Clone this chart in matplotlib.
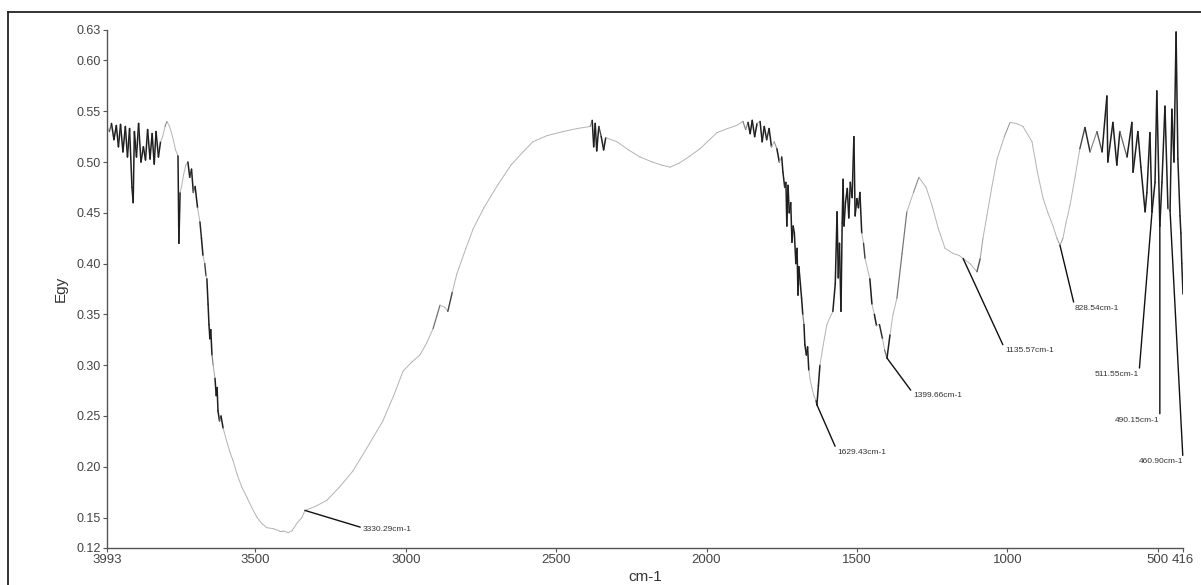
import numpy as np
import matplotlib
matplotlib.use('Agg')
from matplotlib import pyplot as plt
from matplotlib.collections import LineCollection
from matplotlib.lines import Line2D

plt.rcParams['font.family'] = ['Liberation Sans Narrow', 'Liberation Sans', 'DejaVu Sans']

# spectrum (wavenumber cm-1, Egy)
WAVENUMBER = [
    3993, 3985, 3978, 3970, 3962, 3955, 3948, 3940, 3932, 3925, 3918, 3910, 3906, 3902,
    3895, 3888, 3880, 3872, 3865, 3858, 3850, 3843, 3836, 3830, 3822, 3815, 3808, 3800,
    3794, 3785, 3775, 3765, 3757, 3754, 3750, 3745, 3738, 3731, 3724, 3718, 3712, 3706,
    3700, 3692, 3684, 3679, 3674, 3668, 3664, 3661, 3657, 3654, 3651, 3648, 3644, 3640,
    3634, 3630, 3627, 3624, 3619, 3614, 3607, 3595, 3585, 3574, 3560, 3545, 3528, 3512,
    3494, 3478, 3461, 3440, 3420, 3408, 3390, 3378, 3360, 3345, 3335, 3300, 3262, 3220,
    3175, 3130, 3076, 3040, 3009, 2980, 2953, 2930, 2909, 2886, 2870, 2860, 2845, 2830,
    2800, 2776, 2740, 2693, 2650, 2610, 2577, 2530, 2477, 2430, 2387, 2380, 2375, 2370,
    2365, 2358, 2350, 2342, 2335, 2298, 2260, 2221, 2180, 2150, 2121, 2090, 2055, 2022,
    1990, 1965, 1930, 1900, 1879, 1870, 1862, 1855, 1848, 1840, 1832, 1822, 1815, 1808,
    1800, 1792, 1784, 1775, 1766, 1758, 1750, 1746, 1740, 1736, 1733, 1729, 1725, 1720,
    1716, 1712, 1708, 1703, 1699, 1696, 1693, 1688, 1684, 1680, 1676, 1673, 1668, 1664,
    1660, 1656, 1650, 1643, 1636, 1633, 1628, 1623, 1612, 1600, 1580, 1572, 1566, 1562,
    1558, 1553, 1549, 1546, 1543, 1538, 1532, 1527, 1522, 1516, 1510, 1506, 1500, 1495,
    1490, 1484, 1478, 1473, 1465, 1457, 1450, 1442, 1435, 1425, 1415, 1408, 1400, 1390,
    1380, 1367, 1350, 1334, 1312, 1294, 1270, 1250, 1230, 1207, 1180, 1160, 1147, 1124,
    1101, 1090, 1081, 1068, 1050, 1034, 1010, 991, 970, 948, 918, 900, 881, 865, 848,
    835, 825, 815, 805, 792, 775, 759, 742, 725, 702, 685, 669, 666, 649, 636, 626, 602,
    586, 582, 566, 556, 542, 536, 526, 519, 509, 503, 493, 486, 476, 466, 459, 453, 446,
    439, 433, 426, 423, 420, 416,
]
EGY = [
    0.535, 0.530, 0.538, 0.522, 0.536, 0.515, 0.537, 0.510, 0.535, 0.505, 0.533, 0.475, 0.460, 0.530,
    0.505, 0.538, 0.500, 0.515, 0.502, 0.532, 0.503, 0.528, 0.498, 0.530, 0.505, 0.520, 0.525, 0.535,
    0.540, 0.535, 0.525, 0.512, 0.506, 0.420, 0.470, 0.476, 0.488, 0.497, 0.500, 0.485, 0.493, 0.470,
    0.476, 0.455, 0.441, 0.425, 0.408, 0.400, 0.388, 0.385, 0.360, 0.340, 0.326, 0.335, 0.310, 0.300,
    0.287, 0.270, 0.278, 0.255, 0.245, 0.250, 0.238, 0.225, 0.215, 0.206, 0.192, 0.180, 0.170, 0.160,
    0.150, 0.144, 0.140, 0.139, 0.137, 0.137, 0.135, 0.137, 0.145, 0.150, 0.157, 0.161, 0.167, 0.180,
    0.196, 0.218, 0.245, 0.270, 0.294, 0.303, 0.310, 0.322, 0.336, 0.359, 0.357, 0.353, 0.372, 0.390,
    0.415, 0.434, 0.455, 0.478, 0.497, 0.510, 0.520, 0.526, 0.530, 0.533, 0.535, 0.541, 0.515, 0.538,
    0.511, 0.535, 0.525, 0.512, 0.524, 0.520, 0.512, 0.505, 0.500, 0.497, 0.495, 0.499, 0.506, 0.513,
    0.522, 0.529, 0.533, 0.536, 0.540, 0.532, 0.539, 0.528, 0.541, 0.525, 0.538, 0.540, 0.520, 0.535,
    0.522, 0.533, 0.515, 0.520, 0.513, 0.500, 0.505, 0.490, 0.475, 0.480, 0.437, 0.477, 0.450, 0.460,
    0.421, 0.437, 0.430, 0.400, 0.415, 0.369, 0.397, 0.380, 0.366, 0.350, 0.340, 0.320, 0.310, 0.318,
    0.295, 0.287, 0.278, 0.270, 0.265, 0.261, 0.280, 0.300, 0.320, 0.340, 0.353, 0.380, 0.451, 0.386,
    0.420, 0.353, 0.440, 0.483, 0.437, 0.460, 0.474, 0.445, 0.480, 0.465, 0.525, 0.447, 0.464, 0.455,
    0.470, 0.430, 0.420, 0.405, 0.395, 0.385, 0.360, 0.350, 0.339, 0.340, 0.326, 0.315, 0.307, 0.330,
    0.350, 0.366, 0.410, 0.451, 0.470, 0.485, 0.475, 0.457, 0.435, 0.415, 0.410, 0.408, 0.405, 0.400,
    0.392, 0.405, 0.425, 0.447, 0.478, 0.503, 0.525, 0.539, 0.538, 0.535, 0.520, 0.490, 0.464, 0.450, 0.437,
    0.425, 0.418, 0.425, 0.440, 0.457, 0.485, 0.513, 0.534, 0.510, 0.530, 0.510, 0.565, 0.500, 0.539, 0.497, 0.530, 0.505,
    0.539, 0.490, 0.530, 0.495, 0.451, 0.470, 0.529, 0.451, 0.480, 0.570, 0.437, 0.480, 0.555, 0.454, 0.452, 0.552, 0.500,
    0.628, 0.503, 0.447, 0.430, 0.400, 0.370,
]

# peak labels and where their text sits
PEAK_LABELS = ['3330.29cm-1', '1629.43cm-1', '1399.66cm-1', '1135.57cm-1',
               '828.54cm-1', '511.55cm-1', '490.15cm-1', '460.90cm-1']
PEAK_X = [3335, 1633, 1400, 1147, 825, 519, 493, 459]
PEAK_Y = [0.157, 0.261, 0.307, 0.405, 0.418, 0.451, 0.437, 0.452]
LABEL_X = [3142, 1566, 1312, 1008, 776, 562, 493, 416]
LABEL_Y = [0.138, 0.214, 0.270, 0.314, 0.356, 0.291, 0.246, 0.205]
LABEL_SIDE = ['left', 'left', 'left', 'left', 'left', 'right', 'right', 'right']

X_TICKS = [3993, 3500, 3000, 2500, 2000, 1500, 1000, 500, 416]
Y_TICKS = [0.12, 0.15, 0.20, 0.25, 0.30, 0.35, 0.40, 0.45, 0.50, 0.55, 0.60, 0.63]


def trace_shade(x, y):
    # noisy zigzags and steep strokes look dark in the scan, the rest light grey
    dxp = np.abs(np.diff(x)) / 3.3243
    dy = np.diff(y)
    slope = np.abs(dy) * 1016 / np.maximum(dxp, 0.3)
    s = np.sign(dy)
    zig = np.zeros(len(dy), dtype=bool)
    zig[1:] |= s[1:] != s[:-1]
    zig[:-1] |= s[:-1] != s[1:]
    dark = np.clip((slope - 2.0) / 3.0, 0, 1) * zig
    dark = np.maximum(dark, np.clip((slope - 7.0) / 4.0, 0, 1))
    return dark


if __name__ == "__main__":
    fig = plt.figure(figsize=(12.01, 5.85), dpi=100)
    ax = fig.add_axes([107/1201, 1-548/585, (1183-107)/1201, (548-30)/585])

    x = np.array(WAVENUMBER, dtype=float)
    y = np.array(EGY)

    dark = trace_shade(x, y)
    grey = 0.70 - 0.58 * dark
    cols = [(g, g, g) for g in grey]
    widths = 0.7 + 0.4 * dark
    segs = np.stack([np.column_stack([x[:-1], y[:-1]]), np.column_stack([x[1:], y[1:]])], axis=1)
    ax.add_collection(LineCollection(segs, colors=cols, linewidths=widths, capstyle='round'))

    for i in range(len(PEAK_LABELS)):
        side = LABEL_SIDE[i]
        rel = (0, 0.75) if side == 'left' else (1, 0.75)
        ax.annotate(PEAK_LABELS[i], xy=(PEAK_X[i], PEAK_Y[i]), xytext=(LABEL_X[i], LABEL_Y[i]),
                    ha=side, va='center', fontsize=6, color='#333333',
                    arrowprops=dict(arrowstyle='-', color='#111111', lw=1.0,
                                    shrinkA=0, shrinkB=0, relpos=rel))

    ax.set_xlim(3993, 416)
    ax.set_ylim(0.12, 0.63)
    ax.set_xticks(X_TICKS)
    ax.set_xticklabels([str(t) for t in X_TICKS])
    ax.set_yticks(Y_TICKS)
    ax.set_yticklabels(['%.2f' % t for t in Y_TICKS])
    ax.tick_params(axis='both', length=3, width=0.8, color='#555555',
                   labelcolor='#444444', labelsize=9, pad=1.5)
    ax.tick_params(axis='x', labelsize=9.5)
    for s in ['top', 'right']:
        ax.spines[s].set_visible(False)
    for s in ['left', 'bottom']:
        ax.spines[s].set_color('#555555')
        ax.spines[s].set_linewidth(1.0)

    ax.set_xlabel('cm-1', fontsize=11, color='#333333', labelpad=3)
    ax.set_ylabel('Egy', fontsize=11, color='#333333', labelpad=6)

    # outer frame of the scanned figure
    fx = 8/1201
    fy = 1 - 12/585
    fig.add_artist(Line2D([fx, 1.0], [fy, fy], transform=fig.transFigure, color='#222222', lw=1.3))
    fig.add_artist(Line2D([fx, fx], [fy, 0.0], transform=fig.transFigure, color='#222222', lw=1.3))

    fig.savefig('out.png', dpi=100)
